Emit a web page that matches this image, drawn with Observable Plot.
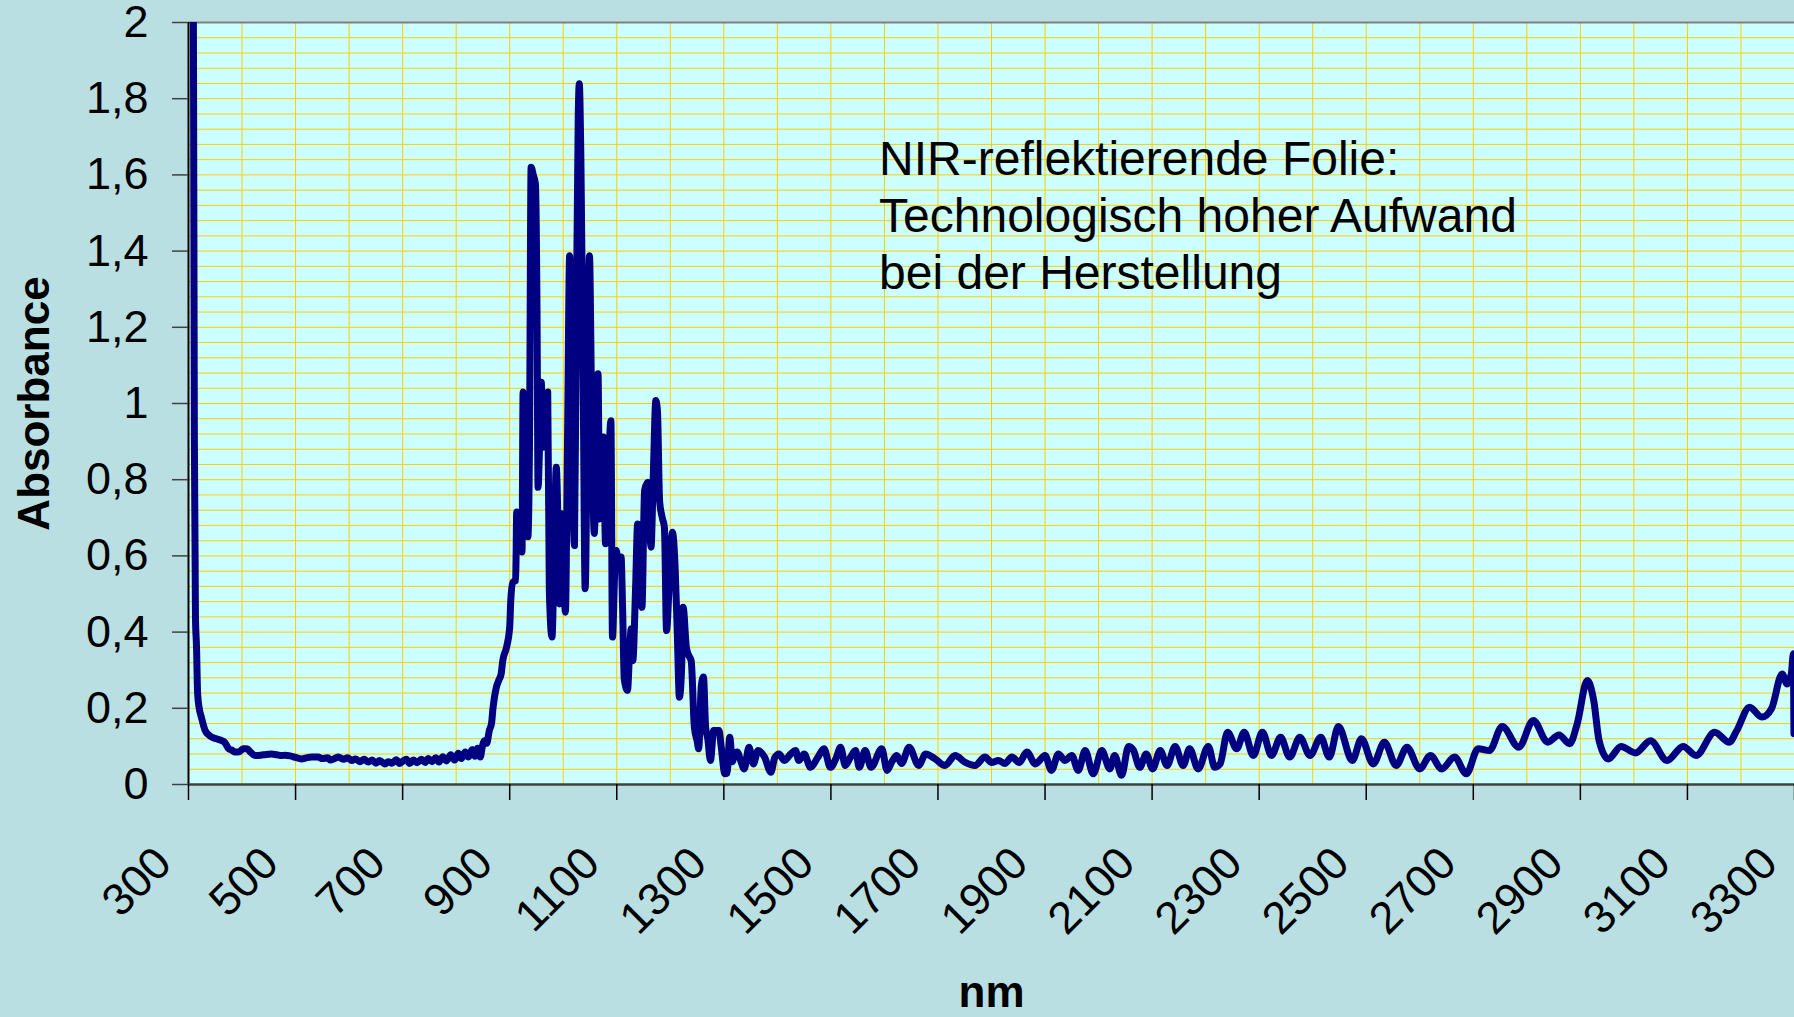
<!DOCTYPE html>
<html>
<head>
<meta charset="utf-8">
<script src="https://cdn.jsdelivr.net/npm/d3@7"></script>
<script src="https://cdn.jsdelivr.net/npm/@observablehq/plot@0.6"></script>
<style>
  html, body { margin: 0; padding: 0; background: #BADFE2; }
  #chart { width: 1794px; height: 1017px; overflow: hidden; }
  svg { display: block; }
</style>
</head>
<body>
<div id="chart"></div>
<script>
// Wavelength (nm) and absorbance
const wavelengths = [
  300, 306, 309, 310, 311, 313, 315, 317, 320, 324,
  331, 338, 344, 352, 362, 368, 375, 381, 387, 395,
  402, 409, 416, 424, 435, 445, 455, 465, 474, 480,
  490, 500, 511, 520, 530, 542, 550, 560, 565, 573,
  580, 590, 597, 605, 612, 620, 628, 636, 643, 650,
  657, 667, 673, 680, 688, 694, 700, 707, 713, 720,
  727, 735, 742, 748, 755, 762, 768, 775, 782, 790,
  797, 804, 810, 817, 823, 830, 835, 840, 845, 849,
  853, 857, 862, 866, 869, 875, 880, 884, 887, 894,
  900, 902, 906, 911, 912, 913, 917, 921, 923, 925,
  929, 934, 937, 940, 944, 948, 951, 953, 956, 959,
  962, 965, 968, 971, 974, 979, 983, 987, 990, 993,
  996, 1000, 1004, 1008, 1012, 1016, 1021, 1025, 1028, 1030,
  1033, 1037, 1041, 1045, 1049, 1053, 1058, 1062, 1065, 1068,
  1072, 1075, 1079, 1084, 1089, 1092, 1096, 1099, 1103, 1108,
  1111, 1114, 1120, 1124, 1127, 1130, 1135, 1139, 1143, 1147,
  1152, 1158, 1164, 1168, 1173, 1176, 1180, 1185, 1189, 1193,
  1198, 1204, 1209, 1213, 1217, 1221, 1224, 1230, 1234, 1239,
  1245, 1250, 1253, 1258, 1262, 1266, 1270, 1275, 1281, 1291,
  1295, 1302, 1306, 1311, 1316, 1320, 1325, 1332, 1338, 1347,
  1355, 1364, 1376, 1388, 1395, 1403, 1413, 1425, 1434, 1440,
  1450, 1462, 1475, 1487, 1499, 1510, 1518, 1527, 1536, 1546,
  1553, 1564, 1575, 1595, 1605, 1614, 1623, 1632, 1646, 1664,
  1677, 1695, 1713, 1732, 1751, 1769, 1788, 1800, 1813, 1825,
  1838, 1852, 1866, 1882, 1900, 1912, 1925, 1937, 1950, 1962,
  1975, 1990, 2006, 2021, 2030, 2043, 2056, 2065, 2077, 2089,
  2101, 2115, 2128, 2143, 2158, 2170, 2186, 2205, 2217, 2227,
  2241, 2258, 2272, 2289, 2306, 2323, 2340, 2357, 2376, 2395,
  2415, 2431, 2448, 2474, 2491, 2513, 2534, 2556, 2576, 2600,
  2620, 2641, 2665, 2687, 2709, 2730, 2754, 2785, 2812, 2839,
  2860, 2880, 2894, 2913, 2925, 2935, 2952, 2976, 3003, 3031,
  3062, 3092, 3116, 3151, 3178, 3192, 3216, 3239, 3257, 3277,
  3286, 3294, 3298, 3299
];
const absorbance = [
  3.6, 3.0, 2.1, 1.5, 0.90, 0.44, 0.36, 0.24, 0.20, 0.177,
  0.142, 0.13, 0.124, 0.12, 0.115, 0.11, 0.094, 0.09, 0.085, 0.086,
  0.094, 0.094, 0.085, 0.076, 0.077, 0.079, 0.080, 0.078, 0.076, 0.077,
  0.075, 0.071, 0.067, 0.070, 0.072, 0.072, 0.068, 0.070, 0.064, 0.068,
  0.072, 0.066, 0.070, 0.063, 0.067, 0.060, 0.066, 0.059, 0.064, 0.056,
  0.063, 0.054, 0.060, 0.056, 0.065, 0.055, 0.061, 0.066, 0.055, 0.064,
  0.057, 0.066, 0.058, 0.068, 0.060, 0.070, 0.059, 0.073, 0.062, 0.078,
  0.064, 0.082, 0.068, 0.085, 0.072, 0.092, 0.074, 0.095, 0.072, 0.100,
  0.115, 0.108, 0.142, 0.160, 0.203, 0.255, 0.275, 0.290, 0.325, 0.360,
  0.413, 0.483, 0.531, 0.535, 0.605, 0.715, 0.700, 0.715, 0.610, 1.030,
  0.900, 0.650, 0.900, 1.620, 1.600, 1.577, 1.250, 0.780, 0.900, 1.056,
  0.885, 0.950, 1.020, 1.030, 0.509, 0.387, 0.600, 0.833, 0.700, 0.474,
  0.711, 0.600, 0.452, 0.900, 1.388, 0.950, 0.627, 1.300, 1.750, 1.839,
  1.638, 1.100, 0.514, 0.950, 1.388, 1.000, 0.659, 0.900, 1.078, 0.697,
  0.850, 0.912, 0.632, 0.800, 0.955, 0.387, 0.550, 0.614, 0.580, 0.597,
  0.457, 0.277, 0.247, 0.350, 0.409, 0.325, 0.509, 0.684, 0.680, 0.465,
  0.772, 0.793, 0.623, 0.800, 1.008, 0.980, 0.745, 0.700, 0.675, 0.404,
  0.527, 0.662, 0.570, 0.400, 0.229, 0.300, 0.465, 0.360, 0.340, 0.325,
  0.150, 0.115, 0.094, 0.260, 0.282, 0.150, 0.120, 0.063, 0.142, 0.142,
  0.100, 0.028, 0.030, 0.124, 0.060, 0.080, 0.085, 0.060, 0.041, 0.098,
  0.054, 0.089, 0.072, 0.032, 0.070, 0.080, 0.063, 0.080, 0.089, 0.063,
  0.080, 0.045, 0.070, 0.094, 0.045, 0.070, 0.098, 0.050, 0.070, 0.089,
  0.045, 0.089, 0.045, 0.094, 0.037, 0.060, 0.076, 0.055, 0.098, 0.050,
  0.080, 0.067, 0.050, 0.076, 0.058, 0.050, 0.072, 0.058, 0.063, 0.055,
  0.072, 0.058, 0.085, 0.054, 0.076, 0.037, 0.080, 0.063, 0.076, 0.037,
  0.089, 0.028, 0.089, 0.041, 0.076, 0.024, 0.100, 0.090, 0.045, 0.080,
  0.041, 0.089, 0.050, 0.100, 0.050, 0.094, 0.041, 0.100, 0.045, 0.054,
  0.137, 0.094, 0.137, 0.076, 0.137, 0.076, 0.124, 0.072, 0.124, 0.076,
  0.124, 0.072, 0.152, 0.063, 0.120, 0.054, 0.111, 0.050, 0.098, 0.041,
  0.076, 0.041, 0.072, 0.028, 0.094, 0.089, 0.152, 0.098, 0.168, 0.111,
  0.130, 0.107, 0.159, 0.273, 0.220, 0.115, 0.067, 0.100, 0.083, 0.115,
  0.063, 0.100, 0.076, 0.137, 0.111, 0.141, 0.203, 0.177, 0.199, 0.290,
  0.264, 0.290, 0.343, 0.133
];

// Axis ticks and labels
const xTicks = [300, 500, 700, 900, 1100, 1300, 1500, 1700, 1900, 2100, 2300, 2500, 2700, 2900, 3100, 3300];
const xTickLabels = ["300", "500", "700", "900", "1100", "1300", "1500", "1700", "1900", "2100", "2300", "2500", "2700", "2900", "3100", "3300"];
const yTicks = [0, 0.2, 0.4, 0.6, 0.8, 1, 1.2, 1.4, 1.6, 1.8, 2];
const yTickLabels = ["0", "0,2", "0,4", "0,6", "0,8", "1", "1,2", "1,4", "1,6", "1,8", "2"];
const xGrid = d3.range(400, 3300, 100);
const yGrid = d3.range(1, 50).map(i => i * 0.04);

const xTitle = "nm";
const yTitle = "Absorbance";
const annotation = "NIR-reflektierende Folie:\nTechnologisch hoher Aufwand\nbei der Herstellung";

const data = wavelengths.map((nm, i) => ({nm, a: absorbance[i]}));

const chart = Plot.plot({
  width: 1794,
  height: 1017,
  marginLeft: 188,
  marginRight: 0,
  marginTop: 22,
  marginBottom: 233,
  style: {
    background: "transparent",
    fontFamily: "'Liberation Sans', Arial, Helvetica, sans-serif",
    fontSize: "45px",
    color: "#000",
    overflow: "visible"
  },
  x: {domain: [300, 3300]},
  y: {domain: [0, 2]},
  marks: [
    Plot.frame({fill: "#CCFFFF", stroke: null}),
    Plot.gridX(xGrid, {stroke: "#FFCC00", strokeOpacity: 1, strokeWidth: 1}),
    Plot.gridY(yGrid, {stroke: "#FFCC00", strokeOpacity: 1, strokeWidth: 1}),
    Plot.ruleY([2], {stroke: "#808080", strokeWidth: 2}),
    Plot.line(data, {
      x: "nm", y: "a",
      stroke: "#000080", strokeWidth: 7,
      curve: "monotone-x",
      strokeLinejoin: "round", strokeLinecap: "round",
      clip: true
    }),
    Plot.ruleX([300], {stroke: "#000", strokeWidth: 2}),
    Plot.ruleY([0], {stroke: "#404040", strokeWidth: 2.5}),
    Plot.axisY({
      ticks: yTicks,
      tickSize: 16,
      tickPadding: 24,
      stroke: "#404040",
      strokeWidth: 1.5,
      fill: "#000",
      fontSize: 45,
      tickFormat: d => yTickLabels[yTicks.indexOf(d)],
      label: null
    }),
    // x tick marks
    Plot.axisX({
      ticks: xTicks,
      tickSize: 16,
      stroke: "#000",
      strokeWidth: 1.5,
      tickFormat: () => "",
      label: null
    }),
    // x tick labels, rotated
    Plot.axisX({
      ticks: xTicks,
      tickSize: 0,
      tickRotate: -45,
      textAnchor: "end",
      lineAnchor: "middle",
      tickPadding: 71,
      dx: -25,
      fill: "#000",
      fontSize: 45,
      tickFormat: d => xTickLabels[xTicks.indexOf(d)],
      label: null
    }),
    Plot.text([yTitle], {
      frameAnchor: "left",
      textAnchor: "middle",
      lineAnchor: "middle",
      rotate: -90,
      dx: -154,
      fontWeight: "bold",
      fontSize: 44,
      fill: "#000"
    }),
    Plot.text([xTitle], {
      frameAnchor: "bottom",
      textAnchor: "middle",
      lineAnchor: "middle",
      dy: 208,
      fontWeight: "bold",
      fontSize: 44,
      fill: "#000"
    }),
    Plot.text([annotation], {
      x: () => 1590,
      y: () => 1.707,
      text: d => d,
      textAnchor: "start",
      lineAnchor: "top",
      lineHeight: 1.1875,
      fontSize: 48,
      fill: "#000"
    })
  ]
});

document.getElementById("chart").appendChild(chart);
</script>
</body>
</html>
